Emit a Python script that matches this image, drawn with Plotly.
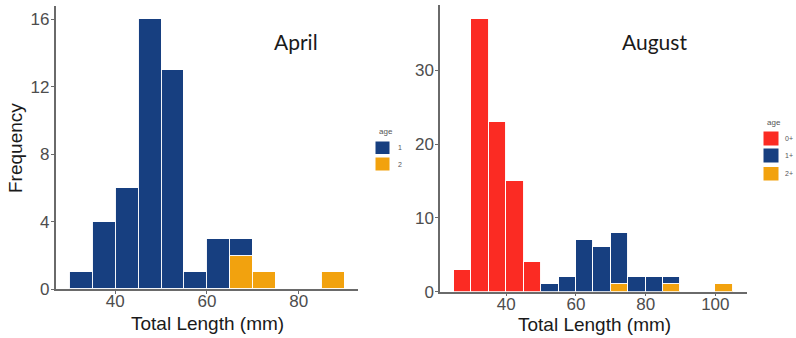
import plotly.graph_objects as go

# ---- data ----
april_bins = [32.5, 37.5, 42.5, 47.5, 52.5, 57.5, 62.5, 67.5, 72.5, 77.5, 82.5, 87.5]
april_age1 = [1, 4, 6, 16, 13, 1, 3, 1, 0, 0, 0, 0]
april_age2 = [0, 0, 0, 0, 0, 0, 0, 2, 1, 0, 0, 1]

aug_bins = [27.5, 32.5, 37.5, 42.5, 47.5, 52.5, 57.5, 62.5, 67.5, 72.5, 77.5, 82.5, 87.5, 92.5, 97.5, 102.5]
aug_age0 = [3, 37, 23, 15, 4, 0, 0, 0, 0, 0, 0, 0, 0, 0, 0, 0]
aug_age1 = [0, 0, 0, 0, 0, 1, 2, 7, 6, 7, 2, 2, 1, 0, 0, 0]
aug_age2 = [0, 0, 0, 0, 0, 0, 0, 0, 0, 1, 0, 0, 1, 0, 0, 1]

april_xticks = [40, 60, 80]
april_yticks = [0, 4, 8, 12, 16]
aug_xticks = [40, 60, 80, 100]
aug_yticks = [0, 10, 20, 30]

BLUE = "#173F80"
RED = "#FB2B23"
ORANGE = "#F2A20E"
BIN_W = 5


def nz(vals):
    return [v if v else None for v in vals]


fig = go.Figure()
line = dict(color="rgba(255,255,255,0.95)", width=1)

fig.add_trace(go.Bar(x=april_bins, y=nz(april_age2), width=BIN_W, marker=dict(color=ORANGE, line=line),
                     xaxis="x", yaxis="y", showlegend=False))
fig.add_trace(go.Bar(x=april_bins, y=nz(april_age1), width=BIN_W, marker=dict(color=BLUE, line=line),
                     xaxis="x", yaxis="y", showlegend=False))

fig.add_trace(go.Bar(x=aug_bins, y=nz(aug_age2), width=BIN_W, marker=dict(color=ORANGE, line=line),
                     xaxis="x2", yaxis="y2", showlegend=False))
fig.add_trace(go.Bar(x=aug_bins, y=nz(aug_age1), width=BIN_W, marker=dict(color=BLUE, line=line),
                     xaxis="x2", yaxis="y2", showlegend=False))
fig.add_trace(go.Bar(x=aug_bins, y=nz(aug_age0), width=BIN_W, marker=dict(color=RED, line=line),
                     xaxis="x2", yaxis="y2", showlegend=False))

W, H = 796, 338


def px(x):
    return x / W


def py(y):
    return 1 - y / H


axis_common = dict(showline=True, linecolor="#6a6a6a", linewidth=1.5, ticks="outside", ticklen=3,
                   tickcolor="#6a6a6a", tickwidth=1, showgrid=False, zeroline=False, automargin=False,
                   tickfont=dict(family="Liberation Sans", size=17, color="#4d4d4d"))
title_font = dict(family="Liberation Sans", size=19, color="#1a1a1a")

fig.update_layout(
    width=W, height=H, margin=dict(l=0, r=0, t=0, b=0, autoexpand=False),
    paper_bgcolor="white", plot_bgcolor="white",
    barmode="stack", bargap=0,
    xaxis=dict(domain=[px(55.5), px(358.3)], range=[27, 93], tickvals=april_xticks, anchor="y",
               ticklabelstandoff=-7, **axis_common),
    yaxis=dict(domain=[py(289.3), py(6)], range=[0, 16.8], tickvals=april_yticks, anchor="x",
               ticklabelstandoff=-2, **axis_common),
    xaxis2=dict(domain=[px(440), px(746.7)], range=[21, 109], tickvals=aug_xticks, anchor="y2",
                ticklabelstandoff=-7, **axis_common),
    yaxis2=dict(domain=[py(291.7), py(5)], range=[0, 38.85], tickvals=aug_yticks, anchor="x2",
                ticklabelstandoff=-2, **axis_common),
)

# axis titles
fig.add_annotation(text="Total Length (mm)", x=px(207), y=py(323), xref="paper", yref="paper",
                   showarrow=False, font=title_font, xanchor="center", yanchor="middle")
fig.add_annotation(text="Total Length (mm)", x=px(594), y=py(324), xref="paper", yref="paper",
                   showarrow=False, font=title_font, xanchor="center", yanchor="middle")
fig.add_annotation(text="Frequency", x=px(15), y=py(148), xref="paper", yref="paper", textangle=-90,
                   showarrow=False, font=title_font, xanchor="center", yanchor="middle")

label_font = dict(family="Lato", size=21, color="#1a1a1a")
fig.add_annotation(text="April", x=px(296), y=py(42), xref="paper", yref="paper",
                   showarrow=False, font=label_font, xanchor="center", yanchor="middle")
fig.add_annotation(text="August", x=px(654), y=py(42), xref="paper", yref="paper",
                   showarrow=False, font=label_font, xanchor="center", yanchor="middle")

# ---- custom legends ----
leg_font = dict(family="Liberation Sans", size=8, color="#555555")
small_font = dict(family="Liberation Sans", size=7, color="#555555")


def legend(x0, x1, title_y, rows, labels_x):
    fig.add_annotation(text="age", x=px((x0 + x1) / 2 + 3), y=py(title_y), xref="paper", yref="paper",
                       showarrow=False, font=leg_font, xanchor="center", yanchor="middle")
    for (y0, y1, color, lab) in rows:
        fig.add_shape(type="rect", xref="paper", yref="paper", x0=px(x0), x1=px(x1), y0=py(y1), y1=py(y0),
                      fillcolor=color, line=dict(color="white", width=1))
        fig.add_annotation(text=lab, x=px(labels_x), y=py((y0 + y1) / 2), xref="paper", yref="paper",
                           showarrow=False, font=small_font, xanchor="left", yanchor="middle")


legend(375, 390, 131, [(141, 154.5, BLUE, "1"), (157, 171, ORANGE, "2")], 396)
legend(763, 779, 122.5, [(131, 146, RED, "0+"), (148, 163, BLUE, "1+"), (166.5, 181, ORANGE, "2+")], 782.5)

fig.write_html("out.html", config={"displayModeBar": False},
               post_script="document.body.style.margin='0';document.body.style.overflow='hidden';")
